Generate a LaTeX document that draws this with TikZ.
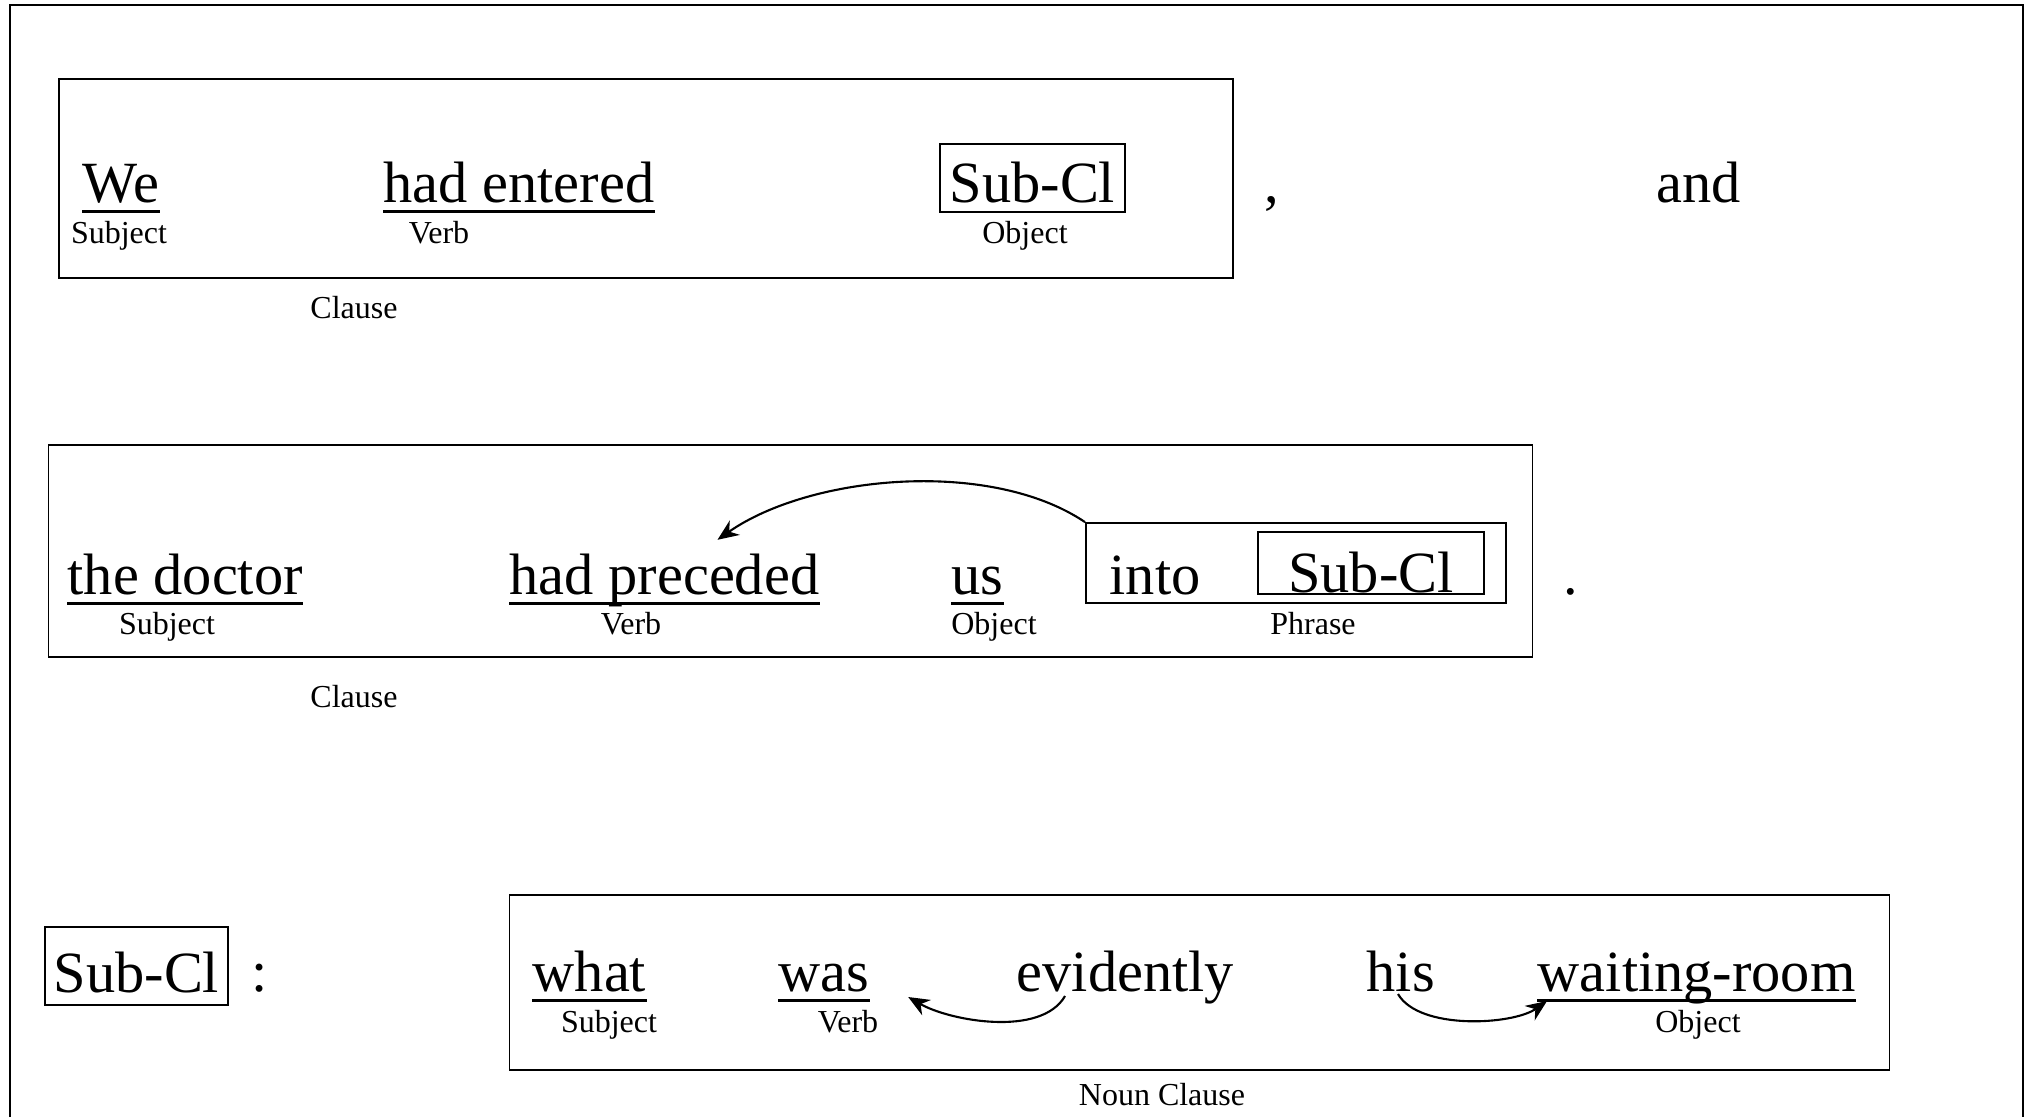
\documentclass[tikz,border=0pt]{standalone}
\usepackage{fontspec}
\setmainfont{Liberation Serif}
\usetikzlibrary{arrows.meta}

\begin{document}
\begin{tikzpicture}[x=0.01cm, y=0.01cm,
    word/.style={anchor=base west, inner sep=0pt, font=\fontsize{16.6}{20}\selectfont},
    role/.style={anchor=base, inner sep=0pt, font=\fontsize{9.1}{11}\selectfont},
    box/.style={draw, line width=0.5pt, inner sep=0pt},
    subcl/.style={box, font=\fontsize{16.6}{20}\selectfont, text depth=0pt},
    uline/.style={line width=0.85pt},
    arr/.style={-{Stealth[length=6pt,width=5pt]}, line width=0.6pt}]
    \useasboundingbox (0,0) rectangle (2029,-1117);
    % frame, open at the bottom
    \draw[line width=0.6pt] (10,-1117) -- (10,-5) -- (2023,-5) -- (2023,-1117);

    % Clause 1
    \node[box, minimum width=11.74cm, minimum height=1.99cm] (clauseA) at (646,-178.5) {};
    \node[word] (we) at (82,-202) {We};
    \node[word] (entered) at (383,-202) {had entered};
    \node[subcl, minimum width=1.85cm, minimum height=0.68cm, text height=14.2pt] (subA) at (1032.5,-178) {Sub-Cl};
    \node[word] (comma) at (1264,-202) {,};
    \node[word] (and) at (1656,-202) {and};
    \node[role] (subjA) at (119,-243) {Subject};
    \node[role] (verbA) at (439,-243) {Verb};
    \node[role] (objA) at (1025,-243) {Object};
    \node[role] (clA) at (354,-318) {Clause};

    % Clause 2
    \node[box, minimum width=14.83cm, minimum height=2.12cm] (clauseB) at (790.5,-551) {};
    \node[word] (doctor) at (67,-594) {the doctor};
    \node[word] (preceded) at (509,-594) {had preceded};
    \node[word] (us) at (951,-594) {us};
    \node[box, minimum width=4.2cm, minimum height=0.8cm] (phrase) at (1296,-563) {};
    \node[word] (into) at (1109,-594) {into};
    \node[subcl, minimum width=2.26cm, minimum height=0.62cm, text height=17pt] (subB) at (1371,-563) {Sub-Cl};
    \node[word] (stop) at (1563,-594) {.};
    \node[role] (subjB) at (167,-634) {Subject};
    \node[role] (verbB) at (631,-634) {Verb};
    \node[role] (objB) at (994,-634) {Object};
    \node[role] (phrB) at (1313,-634) {Phrase};
    \node[role] (clB) at (354,-707) {Clause};
    \draw[arr] (phrase.north west) to[out=146, in=35, looseness=0.79] ([xshift=0.53cm, yshift=0.13cm]preceded.north);

    % Sub-Cl : noun clause
    \node[subcl, minimum width=1.83cm, minimum height=0.78cm, text height=14.8pt] (subC) at (136.5,-966) {Sub-Cl};
    \node[word] (colon) at (251,-991) {:};
    \node[box, minimum width=13.79cm, minimum height=1.75cm] (nclause) at (1199.5,-982.5) {};
    \node[word] (what) at (532,-991) {what};
    \node[word] (was) at (778,-991) {was};
    \node[word] (evid) at (1016,-991) {evidently};
    \node[word] (his) at (1366,-991) {his};
    \node[word] (wait) at (1537,-991) {waiting-room};
    \node[role] (subjC) at (609,-1032) {Subject};
    \node[role] (verbC) at (848,-1032) {Verb};
    \node[role] (objC) at (1698,-1032) {Object};
    \node[role] (nclC) at (1162,-1105) {Noun Clause};
    \draw[arr] ([xshift=0.49cm, yshift=-0.05cm]evid.base west) to[out=240, in=-30, looseness=0.78] ([xshift=0.38cm, yshift=-0.06cm]was.base east);
    \draw[arr] ([xshift=0.32cm, yshift=-0.03cm]his.base west) to[out=300, in=215, looseness=0.72] ([xshift=0.1cm, yshift=-0.1cm]wait.base west);

    % underlines
    \foreach \w in {we,entered,doctor,preceded,us,what,was,wait}
        \draw[uline] ([yshift=-2.6pt]\w.base west) -- ([yshift=-2.6pt]\w.base east);
\end{tikzpicture}
\end{document}
